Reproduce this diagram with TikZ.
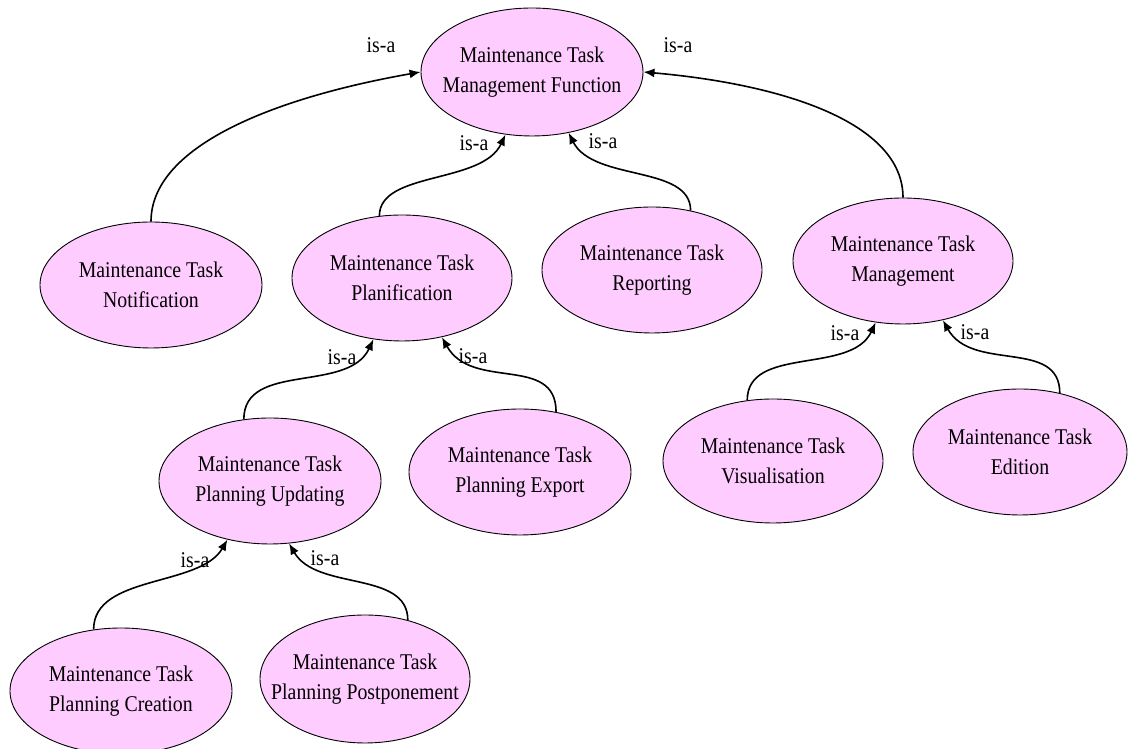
\documentclass[tikz,border=0pt]{standalone}
\usepackage{fontspec}
\setmainfont{Liberation Serif}[FakeStretch=0.88]
\usetikzlibrary{shapes.geometric,arrows.meta}
\definecolor{nodepink}{HTML}{FFCCFF}
\begin{document}
\begin{tikzpicture}[x=1pt,y=1pt,
  concept/.style={ellipse,draw=black,line width=0.9pt,fill=nodepink,inner xsep=-60pt,inner ysep=-30pt,
    align=center,font=\fontsize{22.5}{30}\selectfont},
  isa/.style={line width=1.6pt,-{Latex[length=11pt,width=9pt]}},
  lbl/.style={inner sep=0pt,font=\fontsize{22.5}{30}\selectfont}]
\useasboundingbox (0,0) rectangle (1128,749);
% nodes
\node[concept,minimum width=222pt,minimum height=128pt] (A) at (532,677) {Maintenance Task\\Management Function};
\node[concept,minimum width=222pt,minimum height=126pt] (B) at (151,464) {Maintenance Task\\Notification};
\node[concept,minimum width=220pt,minimum height=126pt] (C) at (402,471) {Maintenance Task\\Planification};
\node[concept,minimum width=220pt,minimum height=126pt] (D) at (652,479) {Maintenance Task\\Reporting};
\node[concept,minimum width=220pt,minimum height=126pt] (E) at (903,488) {Maintenance Task\\Management};
\node[concept,minimum width=222pt,minimum height=126pt] (F) at (270,268) {Maintenance Task\\Planning Updating};
\node[concept,minimum width=222pt,minimum height=126pt] (G) at (520,277) {Maintenance Task\\Planning Export};
\node[concept,minimum width=220pt,minimum height=124pt] (H) at (773,288) {Maintenance Task\\Visualisation};
\node[concept,minimum width=214pt,minimum height=126pt] (I) at (1020,297) {Maintenance Task\\Edition};
\node[concept,minimum width=222pt,minimum height=126pt] (J) at (121,58) {Maintenance Task\\Planning Creation};
\node[concept,minimum width=210pt,minimum height=128pt] (K) at (365,70) {Maintenance Task\\Planning Postponement};
% connectors
\draw[isa] (B.north) to[out=90,in=190,out distance=75pt,in distance=150pt] (A.west);
\draw[isa] (E.north) to[out=90,in=355,out distance=75pt,in distance=140pt] (A.east);
\draw[isa] (C.110) to[out=90,in=245,out distance=45pt,in distance=55pt] (A.247);
\draw[isa] (D.57) to[out=90,in=297,out distance=46pt,in distance=55pt] (A.301);
\draw[isa] (F.113) to[out=90,in=245,out distance=58pt,in distance=60pt] (C.245);
\draw[isa] (G.59) to[out=90,in=299,out distance=58pt,in distance=62pt] (C.304);
\draw[isa] (H.113) to[out=90,in=245,out distance=55pt,in distance=58pt] (E.246);
\draw[isa] (I.56) to[out=90,in=299,out distance=55pt,in distance=60pt] (E.304);
\draw[isa] (J.114) to[out=90,in=240,out distance=55pt,in distance=55pt] (F.234);
\draw[isa] (K.54) to[out=90,in=300,out distance=50pt,in distance=55pt] (F.287);
% labels
\node[lbl] (l1) at (381,704) {is-a};
\node[lbl] (l2) at (678,704) {is-a};
\node[lbl] (l3) at (474,606) {is-a};
\node[lbl] (l4) at (603,608) {is-a};
\node[lbl] (l5) at (342,392) {is-a};
\node[lbl] (l6) at (473,393) {is-a};
\node[lbl] (l7) at (845,416) {is-a};
\node[lbl] (l8) at (975,417) {is-a};
\node[lbl] (l9) at (195,189) {is-a};
\node[lbl] (l10) at (325,191) {is-a};
\end{tikzpicture}
\end{document}
